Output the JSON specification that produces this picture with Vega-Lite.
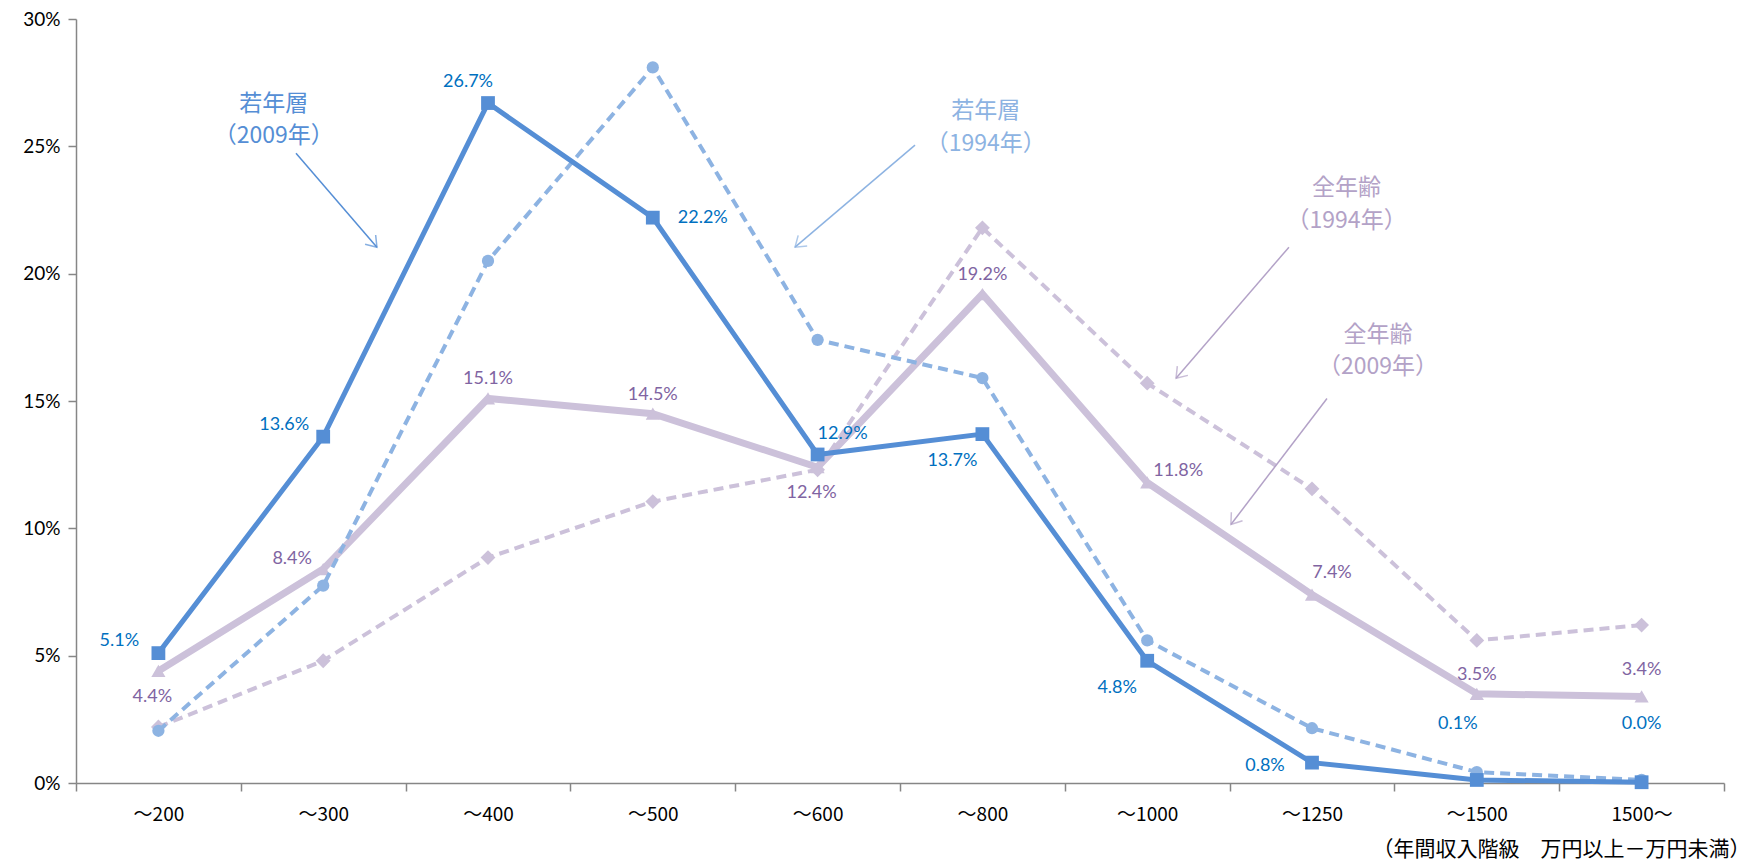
{
  "$schema": "https://vega.github.io/schema/vega-lite/v6.json",
  "width": 1648,
  "height": 764,
  "autosize": {"type": "none"},
  "padding": {"left": 76, "top": 19, "right": 27, "bottom": 77},
  "background": "white",
  "config": {"view": {"stroke": null}},
  "datasets": {
    "main": [
      {"cat": "～200", "i": 0, "s": "若年層2009", "v": 0.051},
      {"cat": "～300", "i": 1, "s": "若年層2009", "v": 0.136},
      {"cat": "～400", "i": 2, "s": "若年層2009", "v": 0.267},
      {"cat": "～500", "i": 3, "s": "若年層2009", "v": 0.222},
      {"cat": "～600", "i": 4, "s": "若年層2009", "v": 0.129},
      {"cat": "～800", "i": 5, "s": "若年層2009", "v": 0.137},
      {"cat": "～1000", "i": 6, "s": "若年層2009", "v": 0.048},
      {"cat": "～1250", "i": 7, "s": "若年層2009", "v": 0.008},
      {"cat": "～1500", "i": 8, "s": "若年層2009", "v": 0.0012},
      {"cat": "1500～", "i": 9, "s": "若年層2009", "v": 0.0003},
      {"cat": "～200", "i": 0, "s": "若年層1994", "v": 0.0205},
      {"cat": "～300", "i": 1, "s": "若年層1994", "v": 0.0775},
      {"cat": "～400", "i": 2, "s": "若年層1994", "v": 0.205},
      {"cat": "～500", "i": 3, "s": "若年層1994", "v": 0.281},
      {"cat": "～600", "i": 4, "s": "若年層1994", "v": 0.174},
      {"cat": "～800", "i": 5, "s": "若年層1994", "v": 0.159},
      {"cat": "～1000", "i": 6, "s": "若年層1994", "v": 0.056},
      {"cat": "～1250", "i": 7, "s": "若年層1994", "v": 0.0215},
      {"cat": "～1500", "i": 8, "s": "若年層1994", "v": 0.0043},
      {"cat": "1500～", "i": 9, "s": "若年層1994", "v": 0.0012},
      {"cat": "～200", "i": 0, "s": "全年齢2009", "v": 0.044},
      {"cat": "～300", "i": 1, "s": "全年齢2009", "v": 0.084},
      {"cat": "～400", "i": 2, "s": "全年齢2009", "v": 0.151},
      {"cat": "～500", "i": 3, "s": "全年齢2009", "v": 0.145},
      {"cat": "～600", "i": 4, "s": "全年齢2009", "v": 0.124},
      {"cat": "～800", "i": 5, "s": "全年齢2009", "v": 0.192},
      {"cat": "～1000", "i": 6, "s": "全年齢2009", "v": 0.118},
      {"cat": "～1250", "i": 7, "s": "全年齢2009", "v": 0.074},
      {"cat": "～1500", "i": 8, "s": "全年齢2009", "v": 0.035},
      {"cat": "1500～", "i": 9, "s": "全年齢2009", "v": 0.034},
      {"cat": "～200", "i": 0, "s": "全年齢1994", "v": 0.022},
      {"cat": "～300", "i": 1, "s": "全年齢1994", "v": 0.048},
      {"cat": "～400", "i": 2, "s": "全年齢1994", "v": 0.0885},
      {"cat": "～500", "i": 3, "s": "全年齢1994", "v": 0.1105},
      {"cat": "～600", "i": 4, "s": "全年齢1994", "v": 0.123},
      {"cat": "～800", "i": 5, "s": "全年齢1994", "v": 0.218},
      {"cat": "～1000", "i": 6, "s": "全年齢1994", "v": 0.157},
      {"cat": "～1250", "i": 7, "s": "全年齢1994", "v": 0.1155},
      {"cat": "～1500", "i": 8, "s": "全年齢1994", "v": 0.056},
      {"cat": "1500～", "i": 9, "s": "全年齢1994", "v": 0.062}
    ],
    "notes": [
      {"g": "若年層2009", "i": 0.70, "v": 0.2665, "t": "若年層"},
      {"g": "若年層2009", "i": 0.70, "v": 0.2540, "t": "（2009年）"},
      {"g": "若年層1994", "i": 5.02, "v": 0.2638, "t": "若年層"},
      {"g": "若年層1994", "i": 5.02, "v": 0.2510, "t": "（1994年）"},
      {"g": "全年齢1994", "i": 7.21, "v": 0.2335, "t": "全年齢"},
      {"g": "全年齢1994", "i": 7.21, "v": 0.2207, "t": "（1994年）"},
      {"g": "全年齢2009", "i": 7.40, "v": 0.1761, "t": "全年齢"},
      {"g": "全年齢2009", "i": 7.40, "v": 0.1633, "t": "（2009年）"}
    ],
    "arrows": [
      {"g": "若年層2009", "i": 0.835, "v": 0.2473, "i2": 1.326, "v2": 0.2104},
      {"g": "若年層1994", "i": 4.591, "v": 0.2505, "i2": 3.863, "v2": 0.2104},
      {"g": "全年齢1994", "i": 6.860, "v": 0.2104, "i2": 6.175, "v2": 0.1589},
      {"g": "全年齢2009", "i": 7.091, "v": 0.1510, "i2": 6.508, "v2": 0.1015}
    ]
  },
  "data": {"name": "main"},
  "encoding": {
    "x": {
      "field": "i", "type": "quantitative",
      "scale": {"domain": [-0.5, 9.5], "nice": false, "zero": false},
      "axis": {
        "values": [-0.5, 0.5, 1.5, 2.5, 3.5, 4.5, 5.5, 6.5, 7.5, 8.5, 9.5],
        "labelExpr": "datum.value < 9 ? ['～200','～300','～400','～500','～600','～800','～1000','～1250','～1500','1500～'][round(datum.value + 0.5)] : ''",
        "labelOffset": 82.4,
        "labelBound": false, "labelFlush": false, "labelOverlap": false,
        "grid": false,
        "domainColor": "#868686", "domainWidth": 1.5,
        "tickColor": "#868686", "tickWidth": 1.5, "tickSize": 8,
        "labelFont": "Noto Sans CJK JP", "labelFontSize": 19, "labelColor": "#000000", "labelPadding": 14,
        "title": "（年間収入階級　万円以上－万円未満）",
        "titleFont": "Noto Sans CJK JP", "titleFontSize": 21,
        "titleFontWeight": "normal", "titleColor": "#000000",
        "titleAlign": "right", "titleAnchor": "end", "titleBaseline": "middle",
        "titleX": 1674, "titleY": 66
      }
    },
    "y": {
      "field": "v", "type": "quantitative",
      "scale": {"domain": [0, 0.3], "nice": false},
      "axis": {
        "values": [0, 0.05, 0.1, 0.15, 0.2, 0.25, 0.3],
        "format": "%",
        "grid": false,
        "domainColor": "#868686", "domainWidth": 1.5,
        "tickColor": "#868686", "tickWidth": 1.5, "tickSize": 8,
        "labelFont": "Lato", "labelFontSize": 19, "labelColor": "#000000", "labelPadding": 8,
        "title": null
      }
    }
  },
  "layer": [
    {
      "transform": [{"filter": {"field": "s", "equal": "全年齢1994"}}],
      "mark": {"type": "line", "color": "#ccc1da", "strokeWidth": 4, "strokeDash": [10, 6],
        "point": {"shape": "diamond", "size": 220, "filled": true, "color": "#ccc1da"}}
    },
    {
      "transform": [{"filter": {"field": "s", "equal": "全年齢2009"}}],
      "mark": {"type": "line", "color": "#ccc1da", "strokeWidth": 7,
        "point": {"shape": "triangle-up", "size": 200, "filled": true, "color": "#ccc1da"}}
    },
    {
      "transform": [{"filter": {"field": "s", "equal": "若年層1994"}}],
      "mark": {"type": "line", "color": "#8db3e2", "strokeWidth": 4, "strokeDash": [10, 6],
        "point": {"shape": "circle", "size": 150, "filled": true, "color": "#8db3e2"}}
    },
    {
      "transform": [{"filter": {"field": "s", "equal": "若年層2009"}}],
      "mark": {"type": "line", "color": "#558ed5", "strokeWidth": 5,
        "point": {"shape": "square", "size": 190, "filled": true, "color": "#558ed5"}}
    },
    {
      "transform": [{"filter": {"and": [{"field": "s", "equal": "若年層2009"}, {"field": "cat", "oneOf": ["～200", "～300"]}]}}],
      "mark": {"type": "text", "dx": -39, "dy": -12, "color": "#0070c0", "font": "Lato", "fontSize": 18},
      "encoding": {"text": {"field": "v", "type": "quantitative", "format": ".1%"}}
    },
    {
      "transform": [{"filter": {"and": [{"field": "s", "equal": "若年層2009"}, {"field": "cat", "oneOf": ["～400"]}]}}],
      "mark": {"type": "text", "dx": -20, "dy": -21, "color": "#0070c0", "font": "Lato", "fontSize": 18},
      "encoding": {"text": {"field": "v", "type": "quantitative", "format": ".1%"}}
    },
    {
      "transform": [{"filter": {"and": [{"field": "s", "equal": "若年層2009"}, {"field": "cat", "oneOf": ["～500"]}]}}],
      "mark": {"type": "text", "dx": 50, "dy": 0, "color": "#0070c0", "font": "Lato", "fontSize": 18},
      "encoding": {"text": {"field": "v", "type": "quantitative", "format": ".1%"}}
    },
    {
      "transform": [{"filter": {"and": [{"field": "s", "equal": "若年層2009"}, {"field": "cat", "oneOf": ["～600"]}]}}],
      "mark": {"type": "text", "dx": 25, "dy": -20, "color": "#0070c0", "font": "Lato", "fontSize": 18},
      "encoding": {"text": {"field": "v", "type": "quantitative", "format": ".1%"}}
    },
    {
      "transform": [{"filter": {"and": [{"field": "s", "equal": "若年層2009"}, {"field": "cat", "oneOf": ["～800", "～1000"]}]}}],
      "mark": {"type": "text", "dx": -30, "dy": 27, "color": "#0070c0", "font": "Lato", "fontSize": 18},
      "encoding": {"text": {"field": "v", "type": "quantitative", "format": ".1%"}}
    },
    {
      "transform": [{"filter": {"and": [{"field": "s", "equal": "若年層2009"}, {"field": "cat", "oneOf": ["～1250"]}]}}],
      "mark": {"type": "text", "dx": -47, "dy": 3, "color": "#0070c0", "font": "Lato", "fontSize": 18},
      "encoding": {"text": {"field": "v", "type": "quantitative", "format": ".1%"}}
    },
    {
      "transform": [{"filter": {"and": [{"field": "s", "equal": "若年層2009"}, {"field": "cat", "oneOf": ["～1500"]}]}}],
      "mark": {"type": "text", "dx": -19, "dy": -56, "color": "#0070c0", "font": "Lato", "fontSize": 18},
      "encoding": {"text": {"field": "v", "type": "quantitative", "format": ".1%"}}
    },
    {
      "transform": [{"filter": {"and": [{"field": "s", "equal": "若年層2009"}, {"field": "cat", "oneOf": ["1500～"]}]}}],
      "mark": {"type": "text", "dx": 0, "dy": -58, "color": "#0070c0", "font": "Lato", "fontSize": 18},
      "encoding": {"text": {"field": "v", "type": "quantitative", "format": ".1%"}}
    },
    {
      "transform": [{"filter": {"and": [{"field": "s", "equal": "全年齢2009"}, {"field": "cat", "oneOf": ["～400", "～500", "～800", "～1500"]}]}}],
      "mark": {"type": "text", "dx": 0, "dy": -19, "color": "#8064a2", "font": "Lato", "fontSize": 18},
      "encoding": {"text": {"field": "v", "type": "quantitative", "format": ".1%"}}
    },
    {
      "transform": [{"filter": {"and": [{"field": "s", "equal": "全年齢2009"}, {"field": "cat", "oneOf": ["1500～"]}]}}],
      "mark": {"type": "text", "dx": 0, "dy": -26, "color": "#8064a2", "font": "Lato", "fontSize": 18},
      "encoding": {"text": {"field": "v", "type": "quantitative", "format": ".1%"}}
    },
    {
      "transform": [{"filter": {"and": [{"field": "s", "equal": "全年齢2009"}, {"field": "cat", "oneOf": ["～200", "～600"]}]}}],
      "mark": {"type": "text", "dx": -6, "dy": 26, "color": "#8064a2", "font": "Lato", "fontSize": 18},
      "encoding": {"text": {"field": "v", "type": "quantitative", "format": ".1%"}}
    },
    {
      "transform": [{"filter": {"and": [{"field": "s", "equal": "全年齢2009"}, {"field": "cat", "oneOf": ["～300"]}]}}],
      "mark": {"type": "text", "dx": -31, "dy": -10, "color": "#8064a2", "font": "Lato", "fontSize": 18},
      "encoding": {"text": {"field": "v", "type": "quantitative", "format": ".1%"}}
    },
    {
      "transform": [{"filter": {"and": [{"field": "s", "equal": "全年齢2009"}, {"field": "cat", "oneOf": ["～1000"]}]}}],
      "mark": {"type": "text", "dx": 31, "dy": -11, "color": "#8064a2", "font": "Lato", "fontSize": 18},
      "encoding": {"text": {"field": "v", "type": "quantitative", "format": ".1%"}}
    },
    {
      "transform": [{"filter": {"and": [{"field": "s", "equal": "全年齢2009"}, {"field": "cat", "oneOf": ["～1250"]}]}}],
      "mark": {"type": "text", "dx": 20, "dy": -22, "color": "#8064a2", "font": "Lato", "fontSize": 18},
      "encoding": {"text": {"field": "v", "type": "quantitative", "format": ".1%"}}
    },
    {
      "data": {"name": "notes"},
      "mark": {"type": "text", "font": "Noto Sans CJK JP", "fontSize": 23, "align": "center", "baseline": "middle"},
      "encoding": {
        "text": {"field": "t", "type": "nominal"},
        "color": {"field": "g", "type": "nominal", "legend": null,
          "scale": {"domain": ["若年層2009", "若年層1994", "全年齢1994", "全年齢2009"], "range": ["#558ed5", "#8db3e2", "#b3a2c7", "#b3a2c7"]}}
      }
    },
    {
      "data": {"name": "arrows"},
      "mark": {"type": "rule", "strokeWidth": 1.5},
      "encoding": {
        "x2": {"field": "i2"},
        "y2": {"field": "v2"},
        "color": {"field": "g", "type": "nominal", "legend": null}
      }
    },
    {
      "data": {"name": "arrows"},
      "transform": [{"filter": {"field": "g", "equal": "若年層2009"}}],
      "mark": {"type": "point", "shape": "M-1,-0.7L0,0L-1,0.7", "filled": false, "size": 400, "strokeWidth": 1.5, "angle": 49, "color": "#558ed5"},
      "encoding": {"x": {"field": "i2", "type": "quantitative"}, "y": {"field": "v2", "type": "quantitative"}}
    },
    {
      "data": {"name": "arrows"},
      "transform": [{"filter": {"field": "g", "equal": "若年層1994"}}],
      "mark": {"type": "point", "shape": "M-1,-0.7L0,0L-1,0.7", "filled": false, "size": 400, "strokeWidth": 1.5, "angle": 140, "color": "#8db3e2"},
      "encoding": {"x": {"field": "i2", "type": "quantitative"}, "y": {"field": "v2", "type": "quantitative"}}
    },
    {
      "data": {"name": "arrows"},
      "transform": [{"filter": {"field": "g", "equal": "全年齢1994"}}],
      "mark": {"type": "point", "shape": "M-1,-0.7L0,0L-1,0.7", "filled": false, "size": 400, "strokeWidth": 1.5, "angle": 131, "color": "#b3a2c7"},
      "encoding": {"x": {"field": "i2", "type": "quantitative"}, "y": {"field": "v2", "type": "quantitative"}}
    },
    {
      "data": {"name": "arrows"},
      "transform": [{"filter": {"field": "g", "equal": "全年齢2009"}}],
      "mark": {"type": "point", "shape": "M-1,-0.7L0,0L-1,0.7", "filled": false, "size": 400, "strokeWidth": 1.5, "angle": 127, "color": "#b3a2c7"},
      "encoding": {"x": {"field": "i2", "type": "quantitative"}, "y": {"field": "v2", "type": "quantitative"}}
    }
  ]
}
